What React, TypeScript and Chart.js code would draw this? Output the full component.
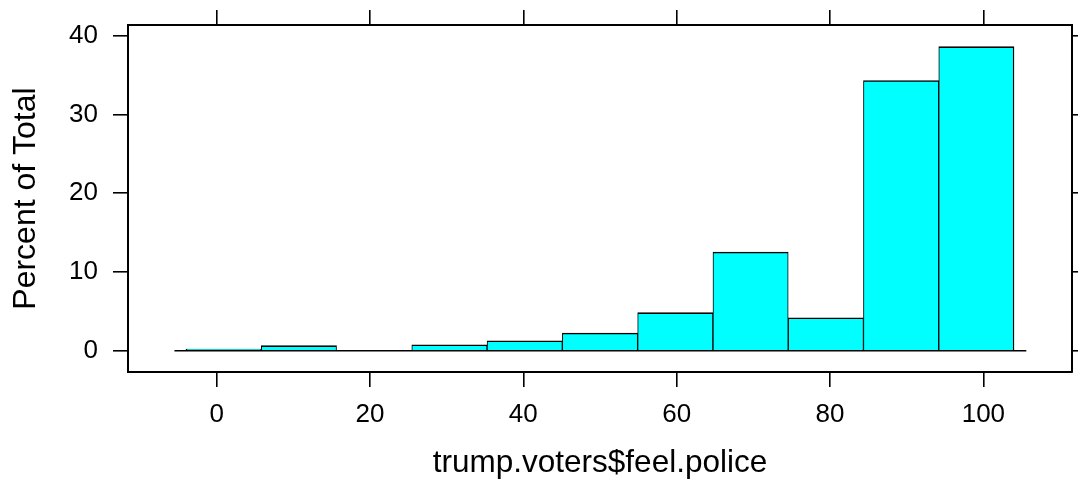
import React, { useEffect, useRef } from "react";
import { Chart, registerables } from "chart.js";

Chart.register(...registerables);

// Histogram bin edges (x units) and bar heights (percent of total)
const binEdges = [-4, 5.82, 15.64, 25.45, 35.27, 45.09, 54.91, 64.73, 74.55, 84.36, 94.18, 104];
const percents = [0.2, 0.65, 0.08, 0.76, 1.27, 2.25, 4.83, 12.53, 4.19, 34.3, 38.6];
// horizontal base line under the bars
const baseLineX = [-5.5, 105.6];
const xTicks = [0, 20, 40, 60, 80, 100];
const yTicks = [0, 10, 20, 30, 40];
const xRange = [-11.56, 111.56];
const yRange = [-2.7, 41.35];
const xTitle = "trump.voters$feel.police";
const yTitle = "Percent of Total";

const FONT = "'Liberation Sans', Arial, Helvetica, sans-serif";
const TICK_SIZE = 26;
const X_TITLE_SIZE = 31.5;
const Y_TITLE_SIZE = 32;

export default function App() {
  const ref = useRef<HTMLCanvasElement | null>(null);

  useEffect(() => {
    if (!ref.current) return;
    const black = "#000000";
    const setX = (s: any) => {
      s.ticks = xTicks.map((v) => ({ value: v }));
    };
    const setY = (s: any) => {
      s.ticks = yTicks.map((v) => ({ value: v }));
    };
    const noPad = (s: any) => {
      s.paddingTop = 0;
      s.paddingBottom = 0;
      s.paddingLeft = 0;
      s.paddingRight = 0;
    };
    const gridOpts = {
      drawOnChartArea: false,
      drawTicks: true,
      tickLength: 15,
      color: black,
      lineWidth: 1.6,
      offset: false,
    };
    const borderOpts = { display: true, color: black, width: 2 };
    const lastBar = percents.length - 1;

    const chart = new Chart(ref.current, {
      type: "bar",
      data: {
        datasets: [
          {
            type: "line",
            data: baseLineX.map((x) => ({ x, y: 0 })),
            borderColor: black,
            borderWidth: 1.5,
            pointRadius: 0,
            xAxisID: "x",
            yAxisID: "y",
            order: 0,
          } as any,
          {
            type: "bar",
            data: percents.map((p, i) => ({ x: (binEdges[i] + binEdges[i + 1]) / 2, y: p })),
            backgroundColor: "#00FFFF",
            borderColor: black,
            borderWidth: (ctx: any) => ({
              top: 1.6,
              bottom: 0,
              left: ctx.dataIndex === 0 ? 1.4 : 1,
              right: ctx.dataIndex === lastBar ? 1.4 : 1,
            }),
            borderSkipped: "start",
            categoryPercentage: 1,
            barPercentage: 1,
            xAxisID: "x",
            yAxisID: "y",
            order: 1,
          } as any,
        ],
      },
      options: {
        animation: false,
        responsive: false,
        devicePixelRatio: 1,
        layout: { padding: { top: 10, left: 0, right: 0, bottom: 0 } },
        plugins: { legend: { display: false }, tooltip: { enabled: false } },
        scales: {
          x: {
            type: "linear",
            position: "bottom",
            min: xRange[0],
            max: xRange[1],
            offset: false,
            afterBuildTicks: setX,
            afterFit: (s: any) => {
              s.height = 111;
              noPad(s);
            },
            grid: gridOpts,
            border: borderOpts,
            ticks: {
              color: black,
              font: { family: FONT, size: TICK_SIZE },
              padding: 12,
              maxRotation: 0,
              autoSkip: false,
            },
            title: {
              display: true,
              text: xTitle,
              color: black,
              font: { family: FONT, size: X_TITLE_SIZE },
              padding: { top: 0, bottom: 1 },
            },
          },
          x2: {
            type: "linear",
            position: "top",
            min: xRange[0],
            max: xRange[1],
            offset: false,
            afterBuildTicks: setX,
            afterFit: (s: any) => {
              s.height = 15;
              noPad(s);
            },
            grid: gridOpts,
            border: borderOpts,
            ticks: { display: false },
          },
          y: {
            type: "linear",
            position: "left",
            min: yRange[0],
            max: yRange[1],
            afterBuildTicks: setY,
            afterFit: (s: any) => {
              s.width = 128;
              noPad(s);
            },
            grid: gridOpts,
            border: borderOpts,
            ticks: {
              color: black,
              font: { family: FONT, size: TICK_SIZE },
              padding: 15,
            },
            title: {
              display: true,
              text: yTitle,
              color: black,
              font: { family: FONT, size: Y_TITLE_SIZE },
              padding: { top: 7, bottom: 0 },
            },
          },
          y2: {
            type: "linear",
            position: "right",
            min: yRange[0],
            max: yRange[1],
            afterBuildTicks: setY,
            afterFit: (s: any) => {
              s.width = 15;
              noPad(s);
            },
            grid: gridOpts,
            border: borderOpts,
            ticks: { display: false },
          },
        },
      } as any,
    });
    return () => chart.destroy();
  }, []);

  return (
    <div
      style={{
        position: "fixed",
        left: 0,
        top: 0,
        width: 1078,
        height: 483,
        overflow: "hidden",
        background: "#ffffff",
      }}
    >
      <canvas ref={ref} width={1087} height={483} style={{ display: "block" }} />
    </div>
  );
}
